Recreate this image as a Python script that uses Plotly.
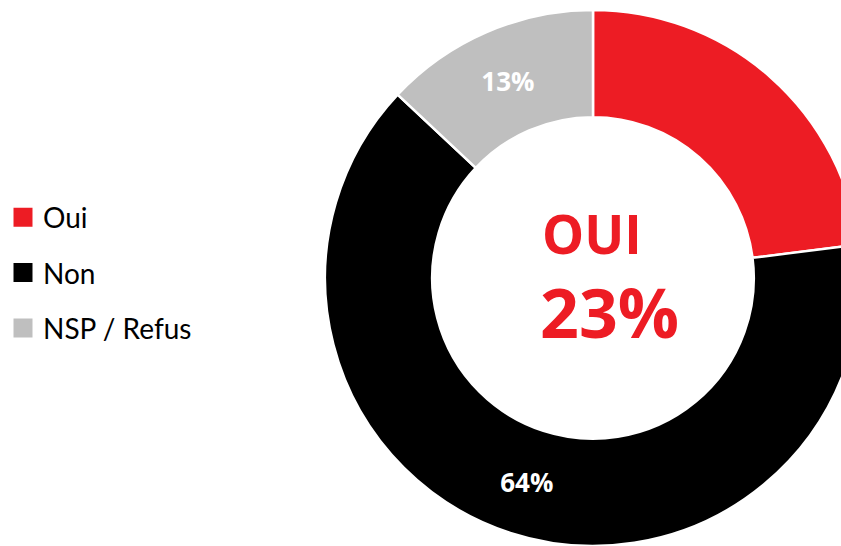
import plotly.graph_objects as go

# Survey answers
labels = ["Oui", "Non", "NSP / Refus"]
values = [23, 64, 13]
colors = ["#ED1C24", "#000000", "#BFBFBF"]
slice_text = ["", "%{value}%", "%{value}%"]
headline = "OUI"

FONT = "Open Sans"
LEGEND_FONT = "Lato"
W, H = 861, 546

fig = go.Figure()

fig.add_trace(go.Pie(
    labels=labels,
    values=values,
    sort=False,
    direction="clockwise",
    rotation=0,
    hole=0.60,
    marker=dict(colors=colors, line=dict(color="white", width=2.5)),
    texttemplate=slice_text,
    textposition="inside",
    insidetextorientation="horizontal",
    textfont=dict(family=FONT, size=26, color="white", weight="bold"),
    hoverinfo="skip",
    showlegend=False,
    domain=dict(x=[325 / W, 1.0], y=[0.0, 536 / H]),
))

# Legend entries as square markers (outline in the same colour to enlarge them)
for i, (lab, col) in enumerate(zip(labels, colors)):
    fig.add_trace(go.Scatter(
        x=[None], y=[None], mode="markers", name=lab,
        marker=dict(symbol="square", size=16, color=col,
                    line=dict(color=col, width=3)),
        legendgroup=f"g{i}", showlegend=True, hoverinfo="skip",
    ))

# Headline in the hole
fig.add_annotation(x=540 / W, y=1 - 233 / H, xref="paper", yref="paper",
                   text=f"<b>{headline}</b>", showarrow=False,
                   xanchor="left", yanchor="middle",
                   font=dict(family=FONT, size=53, color=colors[0]))
fig.add_annotation(x=538 / W, y=1 - 311 / H, xref="paper", yref="paper",
                   text=f"<b>{values[0]}%</b>", showarrow=False,
                   xanchor="left", yanchor="middle",
                   font=dict(family=FONT, size=68, color=colors[0]))

fig.update_layout(
    width=W, height=H,
    margin=dict(l=0, r=0, t=0, b=0),
    paper_bgcolor="white", plot_bgcolor="white",
    xaxis=dict(visible=False), yaxis=dict(visible=False),
    legend=dict(x=3 / W, y=0.5, xanchor="left", yanchor="middle",
                font=dict(family=LEGEND_FONT, size=28, color="black"),
                tracegroupgap=16, itemsizing="trace"),
)

fig.write_html(
    "out.html",
    post_script=(
        "document.body.style.margin='0';"
        "document.body.style.overflow='hidden';"
        "document.documentElement.style.overflow='hidden';"
    ),
)
